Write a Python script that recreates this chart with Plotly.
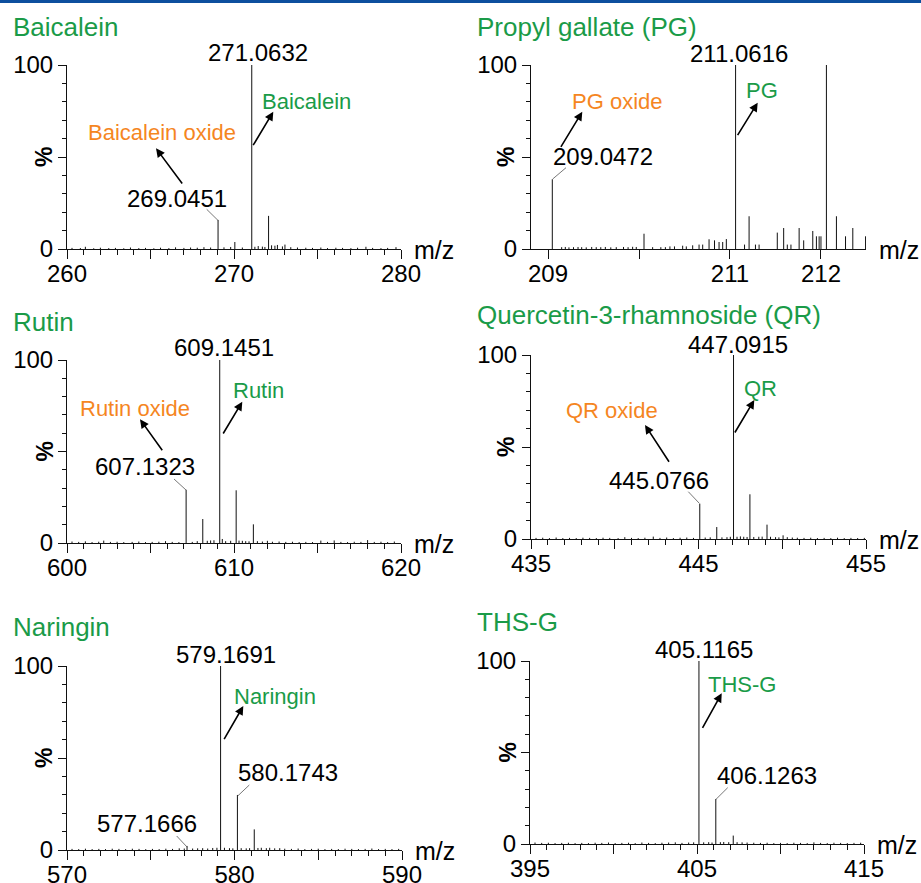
import plotly.graph_objects as go

W, H = 921, 883
FONT = "Liberation Sans, Arial, sans-serif"
GREEN = "#1a9b48"
ORANGE = "#f5861f"

# ---------------- data ----------------
titles = ["Baicalein", "Propyl gallate (PG)", "Rutin",
          "Quercetin-3-rhamnoside (QR)", "Naringin", "THS-G"]

bai_mz = [260.3, 260.8, 261.1, 261.6, 262.0, 262.5, 262.9, 263.4, 263.8, 264.3, 264.7, 265.2,
          265.6, 266.1, 266.5, 267.0, 267.4, 267.8, 268.2, 268.6, 269.0451, 269.4, 269.8, 270.05,
          270.5, 271.0632, 271.25, 271.45, 271.7, 271.85, 272.07, 272.25, 272.45, 272.6, 272.9,
          273.05, 273.4, 273.8, 274.3, 274.7, 275.2, 275.6, 276.1, 276.5, 277.0, 277.4, 277.9,
          278.3, 278.8, 279.2, 279.7]
bai_int = [0.6, 0.5, 1.2, 0.4, 0.7, 0.5, 0.6, 0.4, 0.8, 0.5, 0.6, 0.4,
           0.7, 0.5, 0.9, 0.6, 0.8, 0.7, 1.0, 0.8, 15.8, 0.9, 1.1, 3.8,
           0.8, 100, 1.2, 1.6, 1.3, 1.1, 18.0, 2.0, 1.8, 2.2, 1.4,
           2.4, 1.0, 0.8, 0.7, 0.6, 0.8, 0.5, 0.7, 0.6, 0.5, 0.7, 1.2,
           0.6, 0.5, 0.6, 1.0]

pg_mz = [209.0472, 209.15, 209.19, 209.23, 209.28, 209.33, 209.37, 209.42, 209.48, 209.53,
         209.58, 209.63, 209.69, 209.75, 209.83, 209.88, 209.93, 209.97, 210.055, 210.15,
         210.24, 210.29, 210.34, 210.39, 210.48, 210.52, 210.59, 210.66, 210.70, 210.77,
         210.83, 210.88, 210.92, 210.96, 211.0616, 211.16, 211.21, 211.28, 211.32, 211.52,
         211.59, 211.63, 211.67, 211.76, 211.81, 211.91, 211.95, 211.98, 212.0, 212.06,
         212.17, 212.27, 212.35, 212.49]
pg_int = [37.9, 1.0, 1.1, 0.9, 1.0, 1.1, 1.0, 0.9, 1.1, 1.0,
          1.0, 1.1, 0.9, 1.0, 1.1, 1.0, 1.2, 1.1, 8.3, 1.0,
          1.0, 1.0, 1.4, 1.4, 1.8, 1.4, 2.0, 2.4, 2.4, 5.3,
          4.7, 3.8, 3.8, 5.4, 100, 2.4, 17.8, 2.4, 2.4, 8.9,
          11.4, 2.4, 2.4, 11.4, 4.7, 9.8, 6.9, 6.9, 6.9, 100,
          17.8, 6.9, 11.4, 6.9]

rut_mz = [600.3, 600.7, 601.1, 601.5, 601.9, 602.2, 602.6, 603.0, 603.4, 603.9, 604.3, 604.7,
          605.1, 605.5, 605.9, 606.3, 606.7, 607.1323, 607.5, 607.8, 608.13, 608.4, 608.6,
          608.8, 609.1451, 609.3, 609.5, 609.8, 610.13, 610.3, 610.5, 610.7, 610.9, 611.16,
          611.4, 611.7, 612.0, 612.3, 612.7, 613.1, 613.5, 613.9, 614.3, 614.7, 615.2, 615.6,
          616.0, 616.4, 616.8, 617.2, 617.6, 618.0, 618.4, 618.8, 619.2, 619.6]
rut_int = [0.8, 0.6, 0.9, 0.5, 0.7, 1.3, 0.6, 0.7, 0.5, 0.6, 0.8, 0.5,
           0.6, 0.7, 1.0, 0.6, 0.5, 29.1, 0.6, 1.0, 13.1, 1.2, 1.4,
           1.5, 100, 2.2, 1.0, 1.2, 28.8, 1.3, 1.2, 1.0, 0.9, 10.2,
           1.0, 0.8, 1.2, 0.7, 0.8, 0.6, 0.7, 0.5, 0.6, 0.5, 1.3, 0.6,
           1.4, 0.6, 0.5, 0.7, 0.6, 1.6, 0.6, 0.7, 0.5, 0.8]

qr_mz = [435.3, 435.7, 436.1, 436.5, 436.9, 437.3, 437.7, 438.1, 438.5, 438.9, 439.3, 439.7,
         440.2, 440.6, 441.0, 441.4, 441.8, 442.3, 442.7, 443.1, 443.5, 443.9, 444.3, 444.7,
         445.0766, 445.4, 445.7, 446.09, 446.4, 446.7, 446.9, 447.0915, 447.3, 447.5, 447.7,
         447.9, 448.07, 448.3, 448.6, 448.8, 449.09, 449.3, 449.6, 449.8, 450.05, 450.3,
         450.6, 450.9, 451.3, 451.7, 452.1, 452.5, 452.9, 453.3, 453.7, 454.1, 454.5, 454.9]
qr_int = [0.6, 0.7, 0.5, 0.8, 0.5, 0.6, 0.5, 0.7, 0.6, 0.5, 0.7, 0.6,
          0.5, 1.0, 0.6, 0.5, 0.7, 1.3, 0.6, 0.8, 0.5, 0.7, 0.8, 0.6,
          19.2, 0.8, 0.9, 6.5, 0.9, 1.0, 1.2, 100, 1.2, 1.4, 1.2,
          1.1, 24.3, 1.1, 1.2, 1.3, 7.8, 1.2, 1.0, 0.9, 2.0, 1.0,
          0.8, 0.7, 0.6, 0.7, 0.5, 0.6, 0.5, 0.7, 0.5, 0.6, 0.5, 0.6]

nar_mz = [570.3, 570.7, 571.1, 571.5, 571.9, 572.3, 572.7, 573.1, 573.5, 573.9, 574.3, 574.7,
          575.1, 575.5, 575.9, 576.3, 576.7, 577.0, 577.1666, 577.5, 577.8, 578.1, 578.4,
          578.7, 578.95, 579.1691, 579.4, 579.7, 579.9, 580.1743, 580.4, 580.7, 580.9, 581.18,
          581.4, 581.6, 581.9, 582.1, 582.4, 582.7, 583.0, 583.4, 583.8, 584.2, 584.6, 585.0,
          585.4, 585.8, 586.2, 586.6, 587.0, 587.4, 587.8, 588.2, 588.6, 589.0, 589.4, 589.8]
nar_int = [0.6, 0.5, 0.7, 0.5, 0.6, 0.5, 0.7, 0.6, 0.5, 0.7, 0.6, 0.5,
           0.6, 0.5, 0.7, 0.6, 0.9, 0.8, 2.2, 0.8, 0.9, 1.0, 0.8,
           1.1, 1.2, 100, 1.2, 1.0, 0.9, 29.9, 1.0, 0.9, 1.0, 11.2,
           1.1, 1.2, 1.0, 1.2, 0.9, 1.0, 0.7, 0.6, 0.8, 0.5, 0.6, 0.7,
           0.5, 0.6, 0.5, 0.7, 0.6, 0.5, 0.6, 0.8, 0.5, 0.6, 0.5, 0.6]

ths_mz = [395.3, 395.7, 396.1, 396.5, 396.9, 397.3, 397.7, 398.1, 398.5, 398.9, 399.3, 399.7,
          400.1, 400.5, 400.9, 401.3, 401.7, 402.1, 402.5, 402.9, 403.3, 403.7, 404.1, 404.5,
          404.8, 405.1165, 405.4, 405.7, 405.9, 406.1263, 406.4, 406.6, 406.9, 407.17, 407.4,
          407.7, 408.0, 408.4, 408.8, 409.2, 409.6, 410.0, 410.4, 410.8, 411.2, 411.6, 412.0,
          412.4, 412.8, 413.2, 413.6, 414.0, 414.4, 414.8]
ths_int = [0.8, 0.6, 0.7, 0.5, 0.6, 0.7, 0.5, 0.6, 0.5, 0.7, 0.6, 0.8,
           0.5, 0.6, 0.7, 0.5, 0.8, 0.6, 0.5, 0.7, 0.8, 0.9, 0.6, 0.8,
           0.9, 100, 0.9, 1.0, 0.8, 24.6, 1.0, 1.1, 1.0, 4.6, 1.0,
           0.9, 0.8, 0.7, 0.6, 0.7, 0.5, 0.6, 0.5, 0.7, 0.6, 0.5, 0.9,
           0.6, 0.5, 0.7, 0.6, 0.5, 0.6, 0.7]

# labelled peaks (m/z values shown as text)
bai_labels = [271.0632, 269.0451]
pg_labels = [211.0616, 209.0472]
rut_labels = [609.1451, 607.1323]
qr_labels = [447.0915, 445.0766]
nar_labels = [579.1691, 580.1743, 577.1666]
ths_labels = [405.1165, 406.1263]

x_ranges = [[260, 280], [208.813, 212.495], [600, 620], [435, 455], [570, 590], [395, 415]]
x_tickvals = [[260, 265, 270, 275, 280], [209, 210, 211, 212], [600, 605, 610, 615, 620],
              [435, 440, 445, 450, 455], [570, 575, 580, 585, 590], [395, 400, 405, 410, 415]]
x_ticktext = [["260", "", "270", "", "280"], ["209", "", "211", "212"], ["600", "", "610", "", "620"],
              ["435", "", "445", "", "455"], ["570", "", "580", "", "590"], ["395", "", "405", "", "415"]]

# ---------------- layout geometry (pixels) ----------------
boxes = [(67, 401, 65, 249), (531, 866, 65, 249), (67, 401, 360, 543),
         (531, 866, 355, 539), (67, 402, 666, 850), (530, 864, 661, 844)]
spectra = [(bai_mz, bai_int), (pg_mz, pg_int), (rut_mz, rut_int),
           (qr_mz, qr_int), (nar_mz, nar_int), (ths_mz, ths_int)]

fig = go.Figure()
layout = dict(width=W, height=H, margin=dict(l=0, r=0, t=0, b=0, pad=0, autoexpand=False),
              template="none",
              paper_bgcolor="white", plot_bgcolor="white", showlegend=False)

for i, ((mz, inten), (x0, x1, yt, yb)) in enumerate(zip(spectra, boxes)):
    k = "" if i == 0 else str(i + 1)
    xs, ys = [], []
    for m, v in zip(mz, inten):
        xs += [m, m, None]
        ys += [0, v, None]
    fig.add_trace(go.Scatter(x=xs, y=ys, mode="lines", xaxis="x" + k, yaxis="y" + k,
                             line=dict(color="#111111", width=1), hoverinfo="skip"))
    xr = x_ranges[i]
    xax = dict(domain=[x0 / W, x1 / W], range=xr, anchor="y" + k, automargin=False,
               showgrid=False, zeroline=False, showline=True, linecolor="#111111", linewidth=1,
               tickmode="array", tickvals=x_tickvals[i], ticktext=x_ticktext[i],
               ticks="outside", ticklen=9, tickwidth=1, tickcolor="#111111",
               ticklabelstandoff=-6,
               tickfont=dict(family=FONT, size=24, color="black"), fixedrange=True)
    if i != 1:
        xax["minor"] = dict(tickmode="linear", tick0=xr[0], dtick=1, ticks="outside",
                            ticklen=5, tickwidth=1, tickcolor="#111111", showgrid=False)
    yax = dict(domain=[1 - yb / H, 1 - yt / H], range=[0, 100], anchor="x" + k, automargin=False,
               showgrid=False, zeroline=False, showline=True, linecolor="#111111", linewidth=1,
               tickmode="array", tickvals=[0, 50, 100], ticktext=["0", "", "100"],
               ticks="outside", ticklen=8, tickwidth=1, tickcolor="#111111",
               tickfont=dict(family=FONT, size=24, color="black"), fixedrange=True,
               minor=dict(tickmode="linear", tick0=0, dtick=10, ticks="outside",
                          ticklen=4, tickwidth=1, tickcolor="#111111", showgrid=False))
    layout["xaxis" + k] = xax
    layout["yaxis" + k] = yax

annotations = []
shapes = []


def txt(px, py, text, size, color="black", xanchor="center", angle=0):
    annotations.append(dict(x=px / W, y=1 - py / H, xref="paper", yref="paper", text=text,
                            showarrow=False, xanchor=xanchor, yanchor="middle", textangle=angle,
                            borderpad=0,
                            font=dict(family=FONT, size=size, color=color)))


def arrow(tail, head):
    annotations.append(dict(x=head[0] / W, y=1 - head[1] / H, xref="paper", yref="paper",
                            ax=tail[0] - head[0], ay=tail[1] - head[1], axref="pixel", ayref="pixel",
                            text="", showarrow=True, arrowhead=2, arrowsize=1.1, arrowwidth=1.6,
                            arrowcolor="black", standoff=0, startstandoff=0))


def leader(p0, p1):
    shapes.append(dict(type="line", xref="paper", yref="paper", x0=p0[0] / W, y0=1 - p0[1] / H,
                       x1=p1[0] / W, y1=1 - p1[1] / H, line=dict(color="#555555", width=0.8)))


def f4(v):
    return f"{v:.4f}"


# titles
title_pos = [(12, 27), (476, 27), (12, 322), (476, 315), (12, 627), (476, 622)]
for t, (px, py) in zip(titles, title_pos):
    txt(px, py, t, 26, GREEN, xanchor="left")

# axis captions
for (x0, x1, yt, yb), pcx in zip(boxes, [44, 506, 44, 506, 44, 507]):
    txt(pcx, (yt + yb) / 2, "<b>%</b>", 23, angle=-90)
    txt(x1 + 12, yb + 1, "m/z", 25, xanchor="left")

# panel 1: Baicalein
txt(257.5, 53, f4(bai_labels[0]), 24)
txt(306.7, 101.7, "Baicalein", 22, GREEN)
arrow((252.3, 146.7), (273.3, 111.7))
txt(161.7, 132.7, "Baicalein oxide", 22, ORANGE)
arrow((183.3, 185), (156, 148.3))
txt(176.7, 198.3, f4(bai_labels[1]), 24)
leader((206.7, 209.3), (218.3, 220.7))

# panel 2: PG
txt(738.5, 53.3, f4(pg_labels[0]), 24)
txt(762.3, 90.7, "PG", 22, GREEN)
arrow((736.7, 136.7), (757.7, 102.7))
txt(617, 101.7, "PG oxide", 22, ORANGE)
arrow((560, 148.3), (582.3, 111.7))
txt(603.3, 156, f4(pg_labels[1]), 24)
leader((566, 167.7), (552.7, 179))

# panel 3: Rutin
txt(223.7, 347.3, f4(rut_labels[0]), 24)
txt(258.3, 390, "Rutin", 22, GREEN)
arrow((222.3, 435), (242.3, 401.7))
txt(135, 409, "Rutin oxide", 22, ORANGE)
arrow((163.3, 451.7), (140, 419.3))
txt(145.2, 466, f4(rut_labels[1]), 24)
leader((174, 479), (186, 490))

# panel 4: QR
txt(737.5, 344, f4(qr_labels[0]), 24)
txt(760, 388.3, "QR", 22, GREEN)
arrow((734, 434), (754.3, 400))
txt(611.7, 410.7, "QR oxide", 22, ORANGE)
arrow((670, 463.3), (645, 425))
txt(658.5, 480.7, f4(qr_labels[1]), 24)
leader((688.3, 491.7), (699.3, 503.3))

# panel 5: Naringin
txt(225.8, 654, f4(nar_labels[0]), 24)
txt(275.2, 696, "Naringin", 22, GREEN)
arrow((223.3, 740.7), (243.3, 706))
txt(288.3, 772.7, f4(nar_labels[1]), 24)
leader((249.3, 785), (237.7, 796))
txt(146.5, 823.3, f4(nar_labels[2]), 24)
leader((176.7, 836), (187.3, 847.3))

# panel 6: THS-G
txt(703.7, 649.3, f4(ths_labels[0]), 24)
txt(741.7, 684.3, "THS-G", 22, GREEN)
arrow((701.7, 729.3), (721.7, 693.3))
txt(766.7, 775.7, f4(ths_labels[1]), 24)
leader((727.7, 787.7), (716, 799.3))

# top rule
shapes.append(dict(type="rect", xref="paper", yref="paper", x0=0, x1=1, y0=1 - 3 / H, y1=1,
                   fillcolor="#0d4f9e", line=dict(width=0)))

layout["annotations"] = annotations
layout["shapes"] = shapes
fig.update_layout(**layout)
fig.write_html("out.html", config={"displayModeBar": False},
               post_script="document.body.style.margin='0';document.body.style.overflow='hidden';")
